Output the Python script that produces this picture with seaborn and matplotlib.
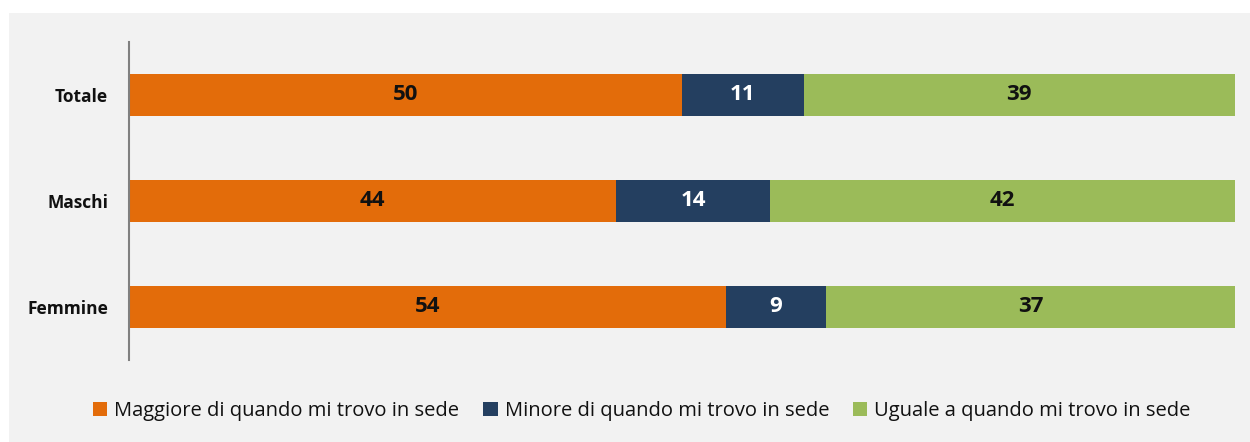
import numpy as np
import pandas as pd
import matplotlib
matplotlib.use("Agg")
import matplotlib.pyplot as plt
import seaborn as sns
from matplotlib.patches import Rectangle, Patch

categories = ["Totale", "Maschi", "Femmine"]
maggiore = [50, 44, 54]
minore = [11, 14, 9]
uguale = [39, 42, 37]
series_names = ["Maggiore di quando mi trovo in sede",
                "Minore di quando mi trovo in sede",
                "Uguale a quando mi trovo in sede"]
colors = ["#E36C0A", "#243F60", "#9BBB59"]
label_colors = ["#111111", "#FFFFFF", "#111111"]

sns.set_theme(style="white")
plt.rcParams["font.family"] = ["Open Sans", "DejaVu Sans"]

fig = plt.figure(figsize=(12.5, 4.42), dpi=100)
fig.patch.set_facecolor("white")
fig.add_artist(Rectangle((9 / 1250, 0), 1 - 9 / 1250, 1 - 13 / 442,
                         transform=fig.transFigure, facecolor="#F2F2F2",
                         edgecolor="none", zorder=-10))

ax = fig.add_axes([129 / 1250, 1 - 360 / 442, (1235 - 129) / 1250, (360 - 42) / 442])
ax.set_facecolor("none")

df = pd.DataFrame({"cat": categories, "m": maggiore, "n": minore, "u": uguale})
df["c1"] = df["m"]
df["c2"] = df["m"] + df["n"]
df["c3"] = df["m"] + df["n"] + df["u"]

for col, color in zip(["c3", "c2", "c1"], colors[::-1]):
    sns.barplot(data=df, x=col, y="cat", order=categories, color=color,
                width=0.4, orient="h", ax=ax, saturation=1, linewidth=0)

starts = [np.zeros(3), np.array(maggiore), np.array(maggiore) + np.array(minore)]
for vals, st, lc in zip([maggiore, minore, uguale], starts, label_colors):
    for i, v in enumerate(vals):
        ax.text(st[i] + v / 2, i, str(v), ha="center", va="center",
                fontsize=16, fontweight="bold", color=lc)

ax.set_xlim(0, 100)
ax.set_ylim(2.5, -0.5)
ax.set_xlabel("")
ax.set_ylabel("")
ax.set_xticks([])
ax.tick_params(axis="y", length=0, pad=15)
for lbl in ax.get_yticklabels():
    lbl.set_fontweight("bold")
    lbl.set_fontsize(12.5)
    lbl.set_color("#111111")
for s in ["top", "right", "bottom"]:
    ax.spines[s].set_visible(False)
ax.spines["left"].set_color("#808080")
ax.spines["left"].set_linewidth(1.5)

handles = [Patch(facecolor=c, edgecolor="none") for c in colors]
fig.legend(handles, series_names, loc="center", bbox_to_anchor=(642 / 1250, 1 - 411 / 442),
           ncol=3, frameon=False, fontsize=14.5, handlelength=0.7, handleheight=0.7,
           handletextpad=0.35, columnspacing=1.2, labelcolor="#111111")

fig.savefig("out.png", dpi=100, facecolor="white")
